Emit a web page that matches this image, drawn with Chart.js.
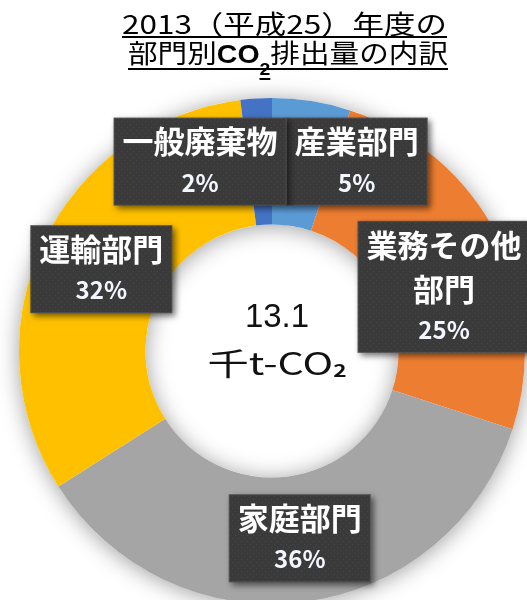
<!DOCTYPE html>
<html>
<head>
<meta charset="utf-8">
<script src="https://cdn.jsdelivr.net/npm/chart.js@4/dist/chart.umd.min.js"></script>
<style>
  html, body { margin: 0; padding: 0; background: #ffffff; overflow: hidden; width: 527px; height: 600px; }
  #wrap { position: absolute; left: 0; top: 0; width: 527px; height: 620px; }
</style>
</head>
<body>
<div id="wrap"><canvas id="chart" width="527" height="620"></canvas></div>
<script>
// Sector breakdown of CO2 emissions, FY2013
const sectors = ['産業部門', '業務その他部門', '家庭部門', '運輸部門', '一般廃棄物'];
const sectorLabelLines = [['産業部門'], ['業務その他', '部門'], ['家庭部門'], ['運輸部門'], ['一般廃棄物']];
const shares = [5, 25, 36, 32, 2];
const sectorColors = ['#5B9BD5', '#ED7D31', '#A5A5A5', '#FFC000', '#4472C4'];
const totalValue = '13.1';
const totalUnit = '千t-CO';
const titleLine1 = '2013（平成25）年度の';
const titleLine2 = [['部門別', 'n'], ['CO', 'b'], ['2', 's'], ['排出量の内訳', 'n']];

// Nudges for the data-label boxes, relative to each slice's centre point
const labelShift = [[55, -2], [3, 22], [4, -1], [1, -1], [-60, 0]];

const JP = '"Noto Sans CJK JP", "Noto Sans", sans-serif';

function dotPattern(ctx) {
  const t = document.createElement('canvas');
  t.width = 6; t.height = 6;
  const g = t.getContext('2d');
  g.fillStyle = '#3a3a3a'; g.fillRect(0, 0, 6, 6);
  g.fillStyle = '#474747'; g.fillRect(1, 1, 1, 1); g.fillRect(4, 4, 1, 1);
  return ctx.createPattern(t, 'repeat');
}

// Soft shadow behind the whole ring (outside and inside the hole)
const ringShadow = {
  id: 'ringShadow',
  beforeDatasetsDraw(chart) {
    const arc = chart.getDatasetMeta(0).data[0];
    if (!arc) return;
    const { x, y, outerRadius, innerRadius } = arc.getProps(['x', 'y', 'outerRadius', 'innerRadius'], true);
    const ctx = chart.ctx;
    ctx.save();
    ctx.beginPath();
    ctx.arc(x, y, outerRadius, 0, Math.PI * 2);
    ctx.arc(x, y, innerRadius, 0, Math.PI * 2, true);
    ctx.fillStyle = '#ffffff';
    ctx.shadowColor = 'rgba(0,0,0,0.38)';
    ctx.shadowBlur = 22;
    ctx.shadowOffsetY = 2;
    ctx.fill();
    ctx.restore();
  }
};

// Dark callout boxes with sector name and share
const sliceLabels = {
  id: 'sliceLabels',
  afterDatasetsDraw(chart) {
    const ctx = chart.ctx;
    const meta = chart.getDatasetMeta(0);
    const pattern = dotPattern(ctx);
    const nameFont = 'bold 31px ' + JP;
    const pctFont = 'bold 24px ' + JP;
    meta.data.forEach((arc, i) => {
      const c = arc.getCenterPoint();
      const cx = c.x + labelShift[i][0];
      const cy = c.y + labelShift[i][1];
      const lines = sectorLabelLines[i];
      ctx.save();
      ctx.font = nameFont;
      let w = 0;
      lines.forEach(l => { w = Math.max(w, ctx.measureText(l).width); });
      const boxW = w + 18;
      const boxH = 24 + (lines.length - 1) * 44 + 41 + 23;
      const left = cx - boxW / 2;
      const top = cy - boxH / 2;
      ctx.shadowColor = 'rgba(0,0,0,0.55)';
      ctx.shadowBlur = 6;
      ctx.shadowOffsetX = 3;
      ctx.shadowOffsetY = 3;
      ctx.fillStyle = pattern;
      ctx.fillRect(left, top, boxW, boxH);
      ctx.shadowColor = 'transparent';
      ctx.strokeStyle = 'rgba(255,255,255,0.12)';
      ctx.lineWidth = 1;
      ctx.strokeRect(left + 0.5, top + 0.5, boxW - 1, boxH - 1);
      ctx.fillStyle = '#ffffff';
      ctx.textAlign = 'center';
      ctx.textBaseline = 'middle';
      lines.forEach((l, k) => {
        ctx.fillText(l, cx, top + 24 + k * 44);
      });
      ctx.font = pctFont;
      ctx.fillStyle = '#f4f6ff';
      ctx.fillText(shares[i] + '%', cx, top + 24 + (lines.length - 1) * 44 + 41);
      ctx.restore();
    });
  }
};

// Total in the hole and the underlined heading
const centerAndTitle = {
  id: 'centerAndTitle',
  afterDraw(chart) {
    const ctx = chart.ctx;
    const arc = chart.getDatasetMeta(0).data[0];
    const x = arc.x, y = arc.y;
    ctx.save();
    ctx.fillStyle = '#111111';
    ctx.textBaseline = 'middle';
    ctx.textAlign = 'center';
    // total value
    ctx.font = '500 33px "Liberation Sans", sans-serif';
    ctx.fillText(totalValue, x + 5, y - 33);
    // unit with subscript
    ctx.font = '31px ' + JP;
    const uw = ctx.measureText(totalUnit).width;
    ctx.font = 'bold 17px ' + JP;
    const sw = ctx.measureText('2').width;
    const total = uw + sw;
    const sx = 139 / total;
    ctx.save();
    ctx.translate(x + 5 - 139 / 2, y + 12);
    ctx.scale(sx, 1);
    ctx.textAlign = 'left';
    ctx.font = '31px ' + JP;
    ctx.fillText(totalUnit, 0, 0);
    ctx.font = 'bold 17px ' + JP;
    ctx.fillText('2', uw, 8);
    ctx.restore();

    // heading line 1
    ctx.textAlign = 'left';
    ctx.textBaseline = 'alphabetic';
    ctx.fillStyle = '#000000';
    ctx.font = '26px ' + JP;
    const w1 = ctx.measureText(titleLine1).width;
    ctx.save();
    ctx.translate(122, 34);
    ctx.scale(325 / w1, 1);
    ctx.fillText(titleLine1, 0, 0);
    ctx.restore();
    ctx.fillRect(122, 36, 325, 2);

    // heading line 2
    const fonts = { n: '26px ' + JP, b: 'bold 25px "Liberation Sans", sans-serif', s: 'bold 17px "Liberation Sans", sans-serif' };
    let w2 = 0;
    const widths = titleLine2.map(([t, f]) => { ctx.font = fonts[f]; const m = ctx.measureText(t).width; w2 += m; return m; });
    const s2 = 320 / w2;
    let px = 128;
    titleLine2.forEach(([t, f], k) => {
      ctx.font = fonts[f];
      ctx.save();
      ctx.translate(px, f === 's' ? 75 : 63);
      ctx.scale(s2, 1);
      ctx.fillText(t, 0, 0);
      ctx.restore();
      if (f === 's') ctx.fillRect(px, 78, widths[k] * s2, 2);
      px += widths[k] * s2;
    });
    ctx.fillRect(128, 68, 320, 2);
    ctx.restore();
  }
};

new Chart(document.getElementById('chart'), {
  type: 'doughnut',
  data: {
    labels: sectors,
    datasets: [{
      data: shares,
      backgroundColor: sectorColors,
      borderWidth: 0,
      hoverOffset: 0
    }]
  },
  options: {
    responsive: false,
    animation: false,
    cutout: '50%',
    layout: { padding: { left: 19, right: 2, top: 98, bottom: 16 } },
    plugins: {
      legend: { display: false },
      tooltip: { enabled: false },
      title: { display: false }
    },
    events: []
  },
  plugins: [ringShadow, sliceLabels, centerAndTitle]
});
</script>
</body>
</html>
